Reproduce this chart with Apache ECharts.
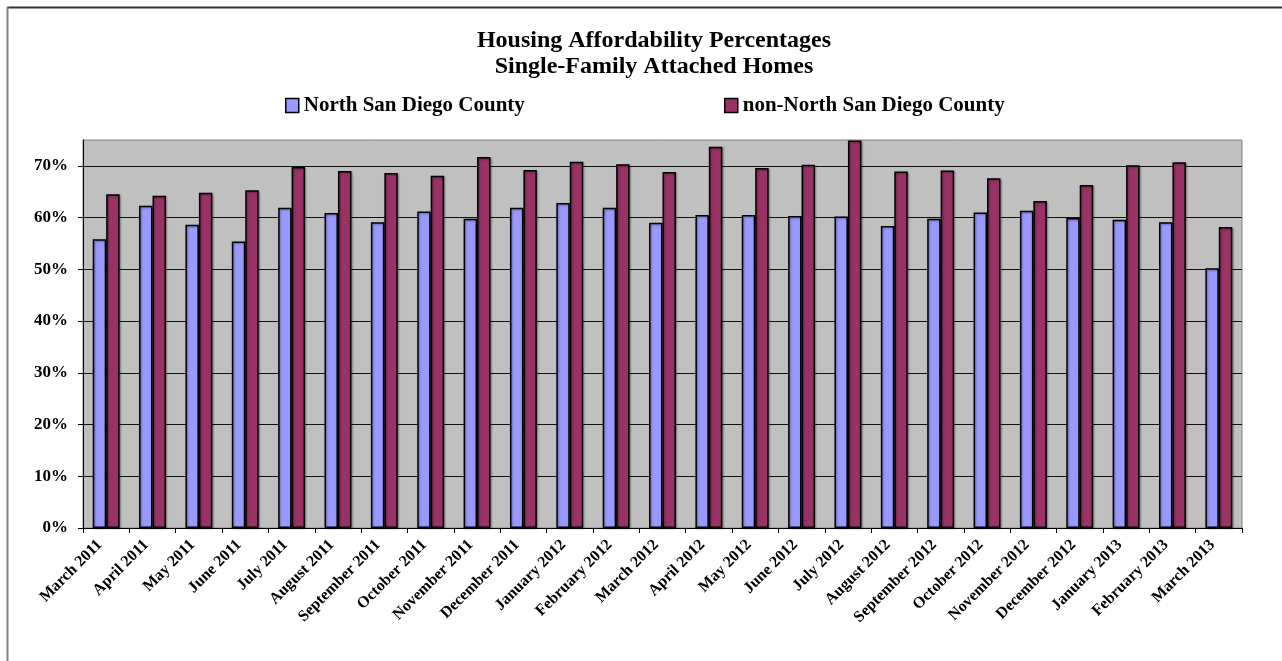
<!DOCTYPE html>
<html>
<head>
<meta charset="utf-8">
<script src="https://cdn.jsdelivr.net/npm/echarts@6/dist/echarts.min.js"></script>
<style>
html,body{margin:0;padding:0;background:#fff;}
#chart{width:1282px;height:661px;}
</style>
</head>
<body>
<div id="chart"></div>
<script>
const categories = ['March 2011','April 2011','May 2011','June 2011','July 2011','August 2011','September 2011','October 2011','November 2011','December 2011','January 2012','February 2012','March 2012','April 2012','May 2012','June 2012','July 2012','August 2012','September 2012','October 2012','November 2012','December 2012','January 2013','February 2013','March 2013'];
const northValues = [55.8,62.3,58.6,55.4,61.9,60.9,59.1,61.2,59.8,61.9,62.8,61.9,59.0,60.5,60.5,60.3,60.2,58.4,59.8,61.0,61.3,59.9,59.6,59.1,50.2];
const nonNorthValues = [64.5,64.2,64.8,65.3,69.8,69.0,68.6,68.1,71.7,69.2,70.8,70.3,68.8,73.7,69.6,70.2,74.9,68.9,69.1,67.6,63.2,66.3,70.1,70.7,58.2];
const yTicks = [0,10,20,30,40,50,60,70];

const FONT = '"Liberation Serif","Times New Roman",serif';
const chart = echarts.init(document.getElementById('chart'), null, {renderer:'canvas'});
const barStyle = (c) => ({color:c, borderColor:'#000', borderWidth:1.5, shadowColor:'rgba(0,0,0,0.35)', shadowBlur:2, shadowOffsetX:1, shadowOffsetY:1});
const legendText = {fontFamily:FONT, fontWeight:'bold', fontSize:21, color:'#000'};
chart.setOption({
  animation:false,
  backgroundColor:'#fff',
  title:{
    text:'Housing Affordability Percentages\nSingle-Family Attached Homes',
    left:649, top:23, textAlign:'center',
    textStyle:{fontFamily:FONT, fontWeight:'bold', fontSize:24, lineHeight:26, color:'#000'}
  },
  legend:[
    {data:['North San Diego County'], left:280, top:90, icon:'rect', itemWidth:13, itemHeight:14, itemGap:4,
     itemStyle:{borderColor:'#000', borderWidth:1.5}, textStyle:legendText},
    {data:['non-North San Diego County'], left:719, top:90, icon:'rect', itemWidth:13, itemHeight:14, itemGap:4,
     itemStyle:{borderColor:'#000', borderWidth:1.5}, textStyle:legendText}
  ],
  graphic:[
    {type:'line', shape:{x1:7, y1:7.5, x2:1282, y2:7.5}, style:{stroke:'#333', lineWidth:2}},
    {type:'line', shape:{x1:7.5, y1:7, x2:7.5, y2:661}, style:{stroke:'#808080', lineWidth:2}}
  ],
  grid:{left:83, right:40, top:140, bottom:133, show:true, backgroundColor:'#C0C0C0', borderColor:'#808080', borderWidth:1, containLabel:false},
  xAxis:{
    type:'category', data:categories, boundaryGap:true,
    axisLine:{show:true, lineStyle:{color:'#000', width:1}},
    axisTick:{show:true, alignWithLabel:false, length:5, lineStyle:{color:'#000'}},
    axisLabel:{interval:0, rotate:45, margin:8, padding:[0,9,0,0], fontFamily:FONT, fontWeight:'bold', fontSize:16, color:'#000'}
  },
  yAxis:{
    type:'value', min:0, max:75, interval:10,
    axisLine:{show:true, lineStyle:{color:'#000', width:1}},
    axisTick:{show:true, length:5, lineStyle:{color:'#000'}, customValues:yTicks},
    axisLabel:{customValues:yTicks, formatter:(v)=>v+'%', margin:15, fontFamily:FONT, fontWeight:'bold', fontSize:17, color:'#000'},
    splitLine:{show:true, lineStyle:{color:'#111', width:1.2}}
  },
  series:[
    {name:'North San Diego County', type:'bar', data:northValues, barGap:'0%', barCategoryGap:'42%', itemStyle:barStyle('#9999FF')},
    {name:'non-North San Diego County', type:'bar', data:nonNorthValues, barGap:'0%', barCategoryGap:'42%', itemStyle:barStyle('#993366')}
  ]
});
</script>
</body>
</html>
